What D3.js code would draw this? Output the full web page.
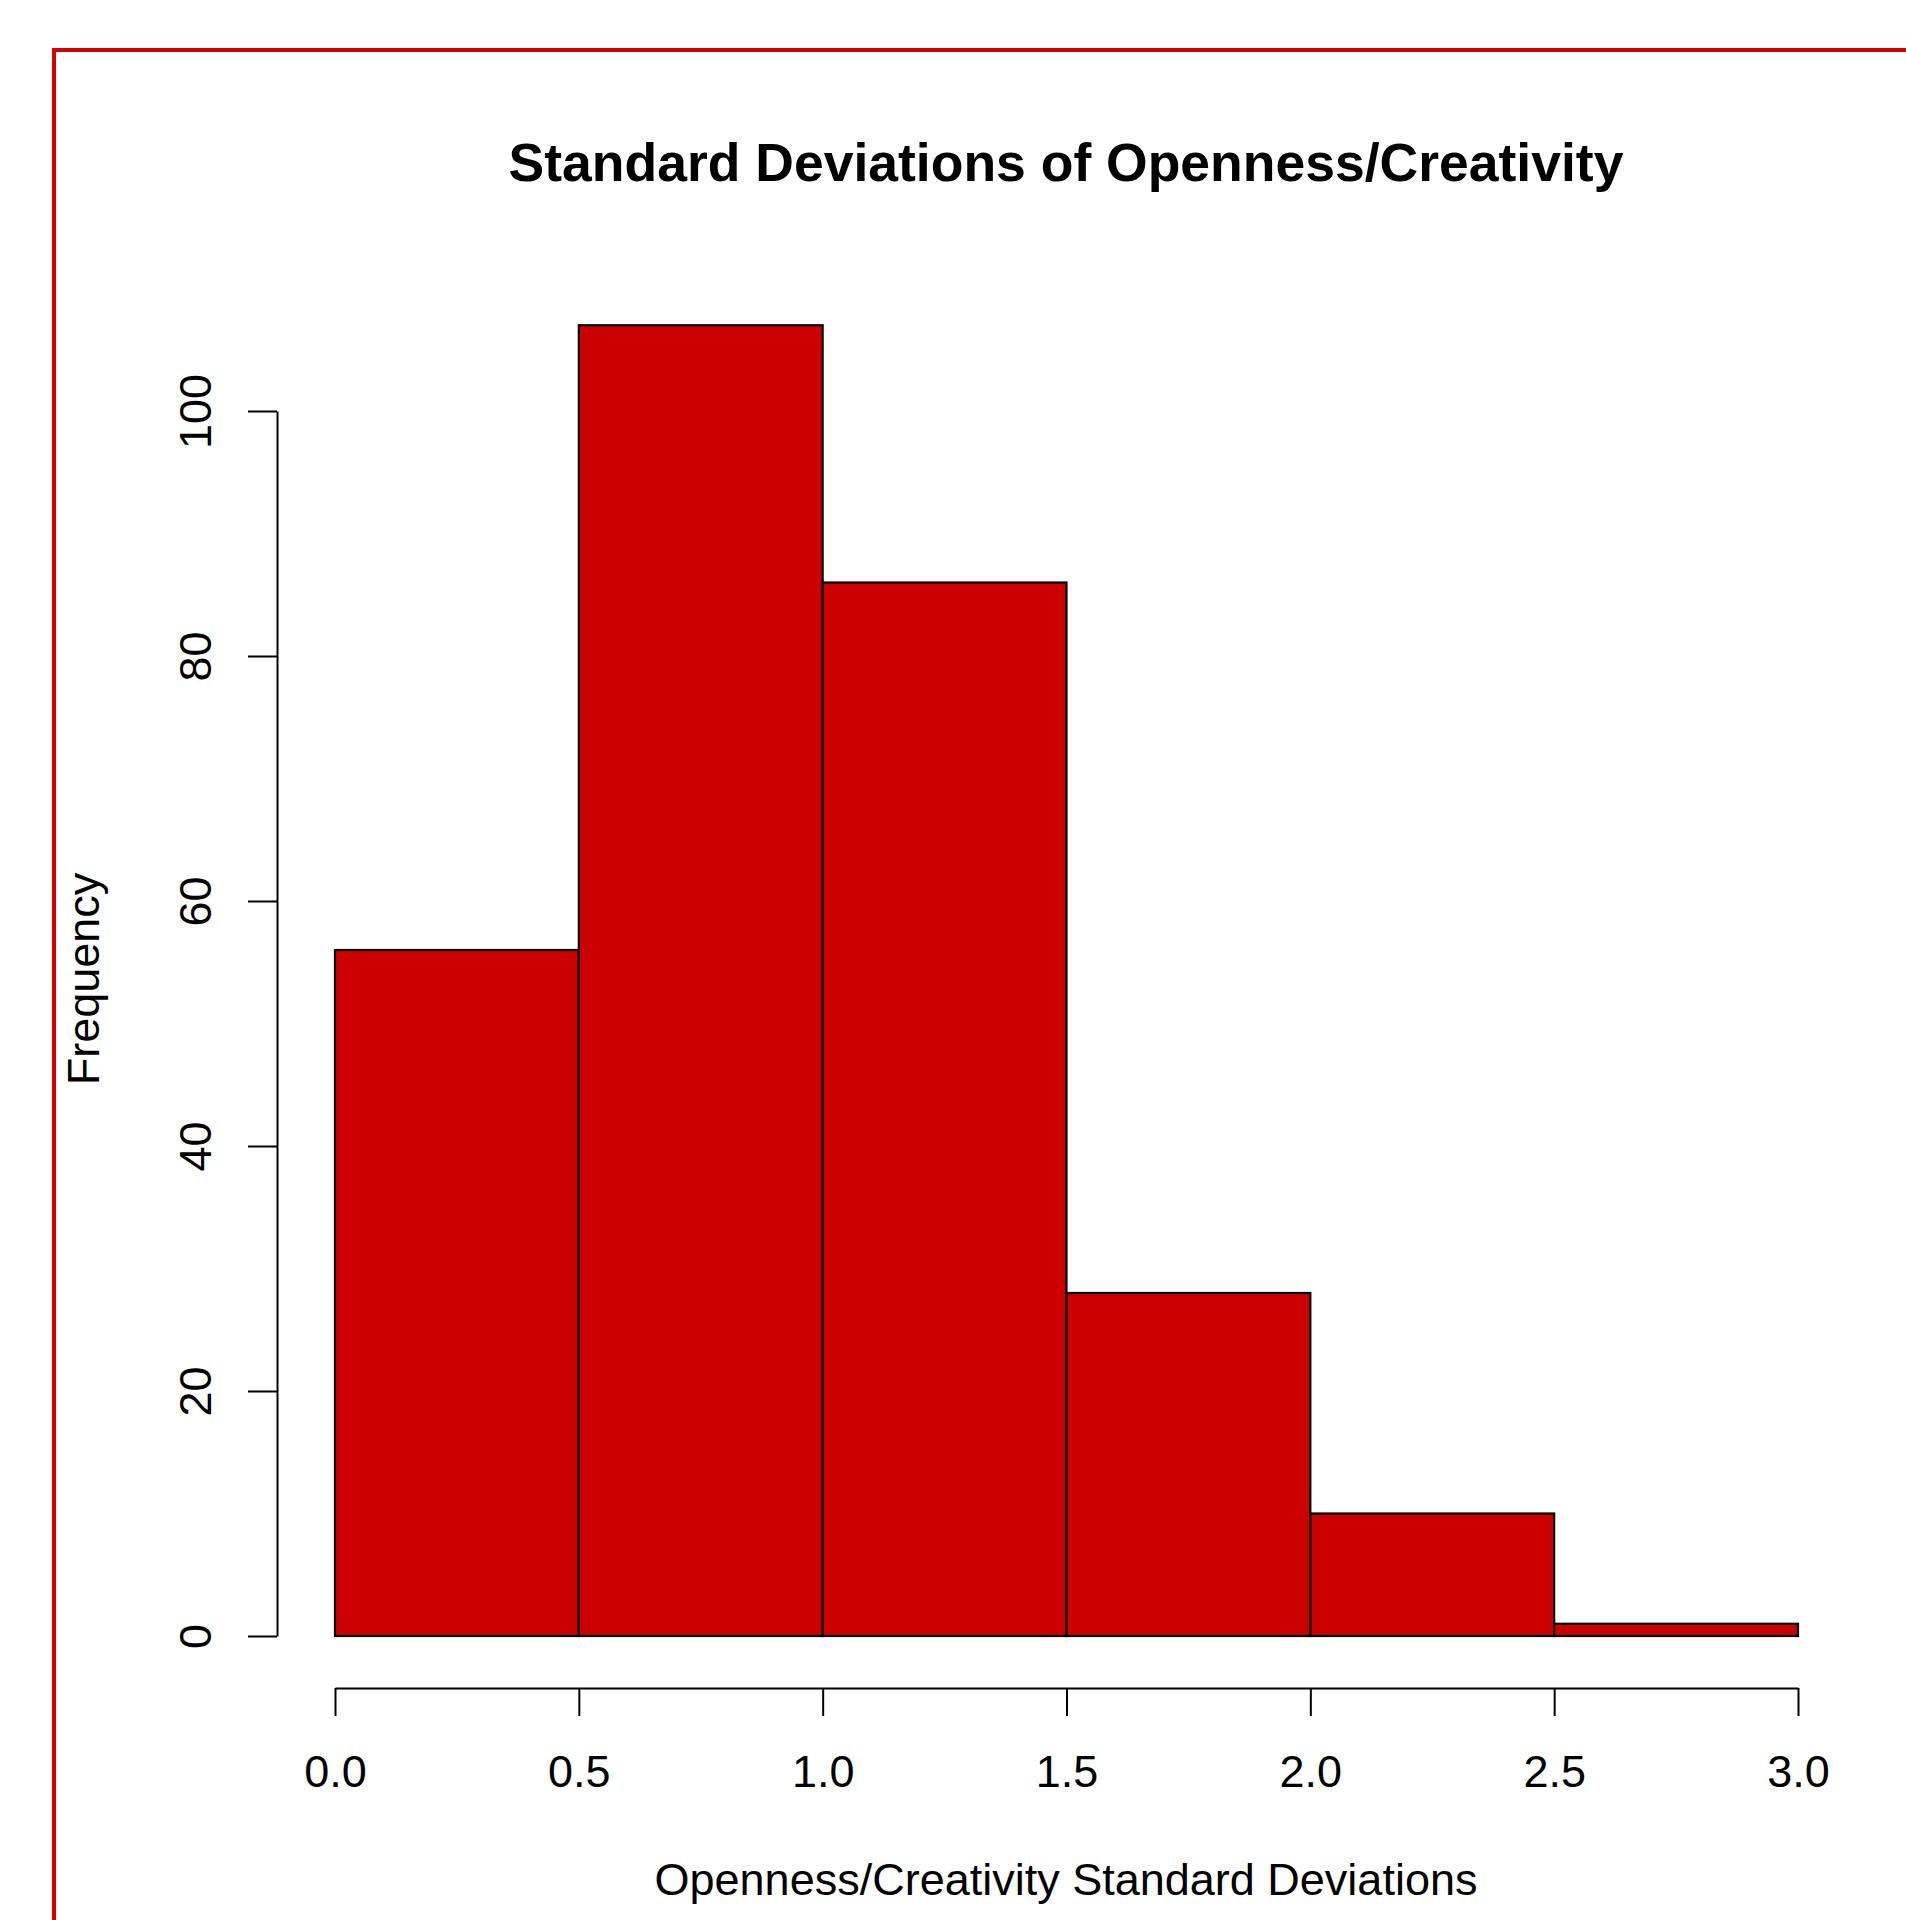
<!DOCTYPE html>
<html>
<head>
<meta charset="utf-8">
<script src="https://cdn.jsdelivr.net/npm/d3@7"></script>
<style>
  body { margin: 0; background: #fff; }
  svg text { font-family: "Liberation Sans", Arial, Helvetica, sans-serif; fill: #000; }
</style>
</head>
<body>
<svg id="chart"></svg>
<script>
// histogram bins (breaks) and counts
var breaks = [0, 0.5, 1.0, 1.5, 2.0, 2.5, 3.0];
var counts = [56, 107, 86, 28, 10, 1];
var x_ticks = [0, 0.5, 1.0, 1.5, 2.0, 2.5, 3.0];
var y_ticks = [0, 20, 40, 60, 80, 100];

var title = "Standard Deviations of Openness/Creativity";
var x_label = "Openness/Creativity Standard Deviations";
var y_label = "Frequency";

var W = 1906, H = 1920;
var bar_fill = "#cc0000";
var fs = 45; // base font size, title is 1.2x

var svg = d3.select("#chart")
    .attr("width", W)
    .attr("height", H);

// red frame, runs off the right and bottom edges
svg.append("path")
    .attr("d", "M54," + H + "V50H" + W)
    .attr("fill", "none")
    .attr("stroke", "#d40000")
    .attr("stroke-width", 4);

var x = d3.scaleLinear()
    .domain([0, 3])
    .range([335, 1798]);

var y = d3.scaleLinear()
    .domain([0, 100])
    .range([1636, 411]);

var bins = counts.map(function(c, i){
    return {x0: breaks[i], x1: breaks[i + 1], n: c};
});

svg.append("g")
    .selectAll("rect")
    .data(bins)
    .enter().append("rect")
    .attr("x", function(d){ return x(d.x0); })
    .attr("y", function(d){ return y(d.n); })
    .attr("width", function(d){ return x(d.x1) - x(d.x0); })
    .attr("height", function(d){ return y(0) - y(d.n); })
    .attr("fill", bar_fill)
    .attr("stroke", "#000")
    .attr("stroke-width", 2.2);

// x axis sits below the bars, like base R
var xaxis = d3.axisBottom(x)
    .tickValues(x_ticks)
    .tickFormat(d3.format(".1f"))
    .tickSize(28)
    .tickSizeOuter(0);

var gx = svg.append("g")
    .attr("transform", "translate(0,1688)")
    .call(xaxis);
gx.selectAll("path, line").attr("stroke", "#000").attr("stroke-width", 2);
gx.selectAll("text")
    .attr("font-size", fs)
    .attr("fill", "#000")
    .attr("font-family", "Liberation Sans, Arial, sans-serif")
    .attr("y", 99)
    .attr("dy", null);

var yaxis = d3.axisLeft(y)
    .tickValues(y_ticks)
    .tickSize(29)
    .tickSizeOuter(0)
    .tickPadding(0);

var gy = svg.append("g")
    .attr("transform", "translate(277,0)")
    .call(yaxis);
gy.selectAll("path, line").attr("stroke", "#000").attr("stroke-width", 2);
// rotated tick labels, baseline toward the axis
gy.selectAll("text")
    .attr("font-size", fs)
    .attr("fill", "#000")
    .attr("font-family", "Liberation Sans, Arial, sans-serif")
    .attr("x", null).attr("dy", null)
    .attr("text-anchor", "middle")
    .attr("transform", "translate(-66,0) rotate(-90)");

svg.append("text")
    .attr("x", 1066)
    .attr("y", 181)
    .attr("text-anchor", "middle")
    .attr("font-size", 53.5)
    .attr("font-weight", "bold")
    .text(title);

svg.append("text")
    .attr("x", 1066)
    .attr("y", 1895)
    .attr("text-anchor", "middle")
    .attr("font-size", fs)
    .text(x_label);

svg.append("text")
    .attr("transform", "translate(99,979) rotate(-90)")
    .attr("text-anchor", "middle")
    .attr("font-size", fs)
    .text(y_label);
</script>
</body>
</html>
